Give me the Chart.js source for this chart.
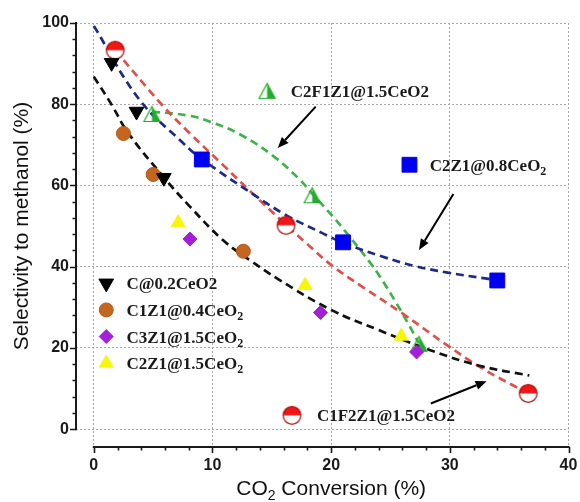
<!DOCTYPE html>
<html>
<head>
<meta charset="utf-8">
<script src="https://cdn.jsdelivr.net/npm/chart.js@4.4.1/dist/chart.umd.min.js"></script>
<style>
  html, body { margin: 0; padding: 0; background: #fff; }
</style>
</head>
<body>
<canvas id="chart" width="580" height="502"></canvas>
<script>
(function () {
    'use strict';

    // axis ticks
    var X_TICKS = [0, 10, 20, 30, 40];
    var Y_TICKS = [0, 20, 40, 60, 80, 100];

    // series names ("_2" = subscript 2)
    var NAMES = ['C@0.2CeO2', 'C1Z1@0.4CeO_2', 'C3Z1@1.5CeO_2', 'C2Z1@1.5CeO_2',
                 'C2F1Z1@1.5CeO2', 'C2Z1@0.8CeO_2', 'C1F2Z1@1.5CeO2'];

    // measured points: CO2 conversion (%) / selectivity (%)
    var C02_X     = [1.5, 3.6, 5.9];
    var C02_Y     = [90.2, 78.2, 61.9];
    var C1Z1_X    = [2.5, 5.0, 12.6];
    var C1Z1_Y    = [72.8, 62.7, 43.8];
    var C3Z1_X    = [8.1, 19.1, 27.2];
    var C3Z1_Y    = [46.8, 28.7, 19.0];
    var C2Z1_15_X = [7.1, 17.8, 25.9];
    var C2Z1_15_Y = [50.8, 35.4, 22.9];
    var C2F1Z1_X  = [4.9, 18.4, 27.4];
    var C2F1Z1_Y  = [77.6, 57.6, 21.0];
    var C2Z1_08_X = [9.1, 21.0, 34.0];
    var C2Z1_08_Y = [66.4, 46.0, 36.6];
    var C1F2Z1_X  = [1.8, 16.2, 36.6];
    var C1F2Z1_Y  = [93.3, 50.2, 8.8];

    // dashed guide curves
    var FIT_BLACK_X = [0, 1.5, 2.9, 5.9, 8.1, 10.9, 13.2, 15.5, 19.9, 24.0, 28.3, 32.5, 36.7];
    var FIT_BLACK_Y = [86.8, 79.9, 72.9, 62.0, 54.8, 46.5, 41.5, 37.0, 29.5, 24.4, 19.5, 15.6, 13.2];
    var FIT_BLUE_X  = [0, 3.8, 7.5, 9.1, 13.7, 16.2, 19.3, 21.0, 24.3, 27.0, 29.7, 33.0, 34.0];
    var FIT_BLUE_Y  = [99.3, 81.3, 70.5, 66.5, 57.3, 52.7, 48.2, 45.9, 42.5, 40.2, 38.6, 37.1, 36.7];
    var FIT_RED_X   = [1.8, 5.7, 8.1, 10.9, 13.1, 16.2, 17.9, 20.1, 22.6, 26.0, 29.7, 32.7, 36.6];
    var FIT_RED_Y   = [93.3, 80.0, 72.8, 65.0, 58.8, 50.3, 45.8, 40.2, 35.1, 28.5, 20.8, 15.0, 8.8];
    var FIT_GREEN_X = [4.9, 8.0, 9.8, 12.3, 15.1, 17.3, 18.4, 20.1, 21.5, 23.2, 24.1, 25.5, 26.6, 27.4];
    var FIT_GREEN_Y = [78.2, 77.2, 75.7, 72.6, 67.3, 61.6, 58.0, 52.5, 47.6, 41.3, 37.6, 31.0, 25.4, 21.1];

    var SANS  = '"Liberation Sans", Arial, sans-serif';
    var SERIF = '"Liberation Serif", "Times New Roman", serif';

    function pts(xs, ys) {
        return xs.map(function (x, i) { return { x: x, y: ys[i] }; });
    }

    // half filled markers
    function halfCircle(r, fill, edge) {
        var s = Math.ceil(r * 2 + 3), m = s / 2;
        var c = document.createElement('canvas');
        c.width = c.height = s;
        var g = c.getContext('2d');
        g.beginPath(); g.arc(m, m, r, 0, Math.PI * 2); g.fillStyle = '#fff'; g.fill();
        g.beginPath(); g.arc(m, m, r, Math.PI, Math.PI * 2); g.closePath();
        g.fillStyle = fill; g.fill();
        g.beginPath(); g.arc(m, m, r, 0, Math.PI * 2);
        g.lineWidth = 1.3; g.strokeStyle = edge; g.stroke();
        return c;
    }

    function halfTriangle(w, h, fill) {
        var c = document.createElement('canvas');
        c.width = w + 3; c.height = h + 3;
        var g = c.getContext('2d');
        var m = (w + 3) / 2, top = 1.5, bot = h + 1.5;
        g.beginPath(); g.moveTo(m, top); g.lineTo(w + 1.5, bot); g.lineTo(m, bot); g.closePath();
        g.fillStyle = fill; g.fill();
        g.beginPath(); g.moveTo(m, top); g.lineTo(w + 1.5, bot); g.lineTo(1.5, bot); g.closePath();
        g.lineWidth = 1.2; g.strokeStyle = fill; g.stroke();
        return c;
    }

    var GREEN_TRI = halfTriangle(16, 15, '#22ad2c');
    var RED_HALF  = halfCircle(8.8, '#f21515', '#b01010');

    function marker(name, xs, ys, style) {
        return {
            label: name,
            data: pts(xs, ys),
            showLine: false,
            order: 1,
            pointStyle: style.shape,
            pointRadius: style.r || 6,
            pointRotation: style.rot || 0,
            pointBackgroundColor: style.color,
            pointBorderColor: style.edge || style.color,
            pointBorderWidth: 1
        };
    }

    function curve(xs, ys, color) {
        return {
            label: '',
            data: pts(xs, ys),
            showLine: true,
            order: 2,
            borderColor: color,
            borderWidth: 2.7,
            borderDash: [8, 5],
            pointRadius: 0,
            fill: false,
            tension: 0.4
        };
    }

    var markers = [
        marker(NAMES[0], C02_X, C02_Y, { shape: 'triangle', r: 8.5, rot: 180, color: '#000' }),
        marker(NAMES[1], C1Z1_X, C1Z1_Y, { shape: 'circle', r: 7, color: '#c4661f', edge: '#b35a16' }),
        marker(NAMES[2], C3Z1_X, C3Z1_Y, { shape: 'rectRot', r: 7, color: '#a51fd9' }),
        marker(NAMES[3], C2Z1_15_X, C2Z1_15_Y, { shape: 'triangle', r: 8, color: '#f6f60a' }),
        marker(NAMES[4], C2F1Z1_X, C2F1Z1_Y, { shape: GREEN_TRI }),
        marker(NAMES[5], C2Z1_08_X, C2Z1_08_Y, { shape: 'rect', r: 10.5, color: '#0000f0' }),
        marker(NAMES[6], C1F2Z1_X, C1F2Z1_Y, { shape: RED_HALF })
    ];

    var curves = [
        curve(FIT_BLACK_X, FIT_BLACK_Y, '#111111'),
        curve(FIT_BLUE_X, FIT_BLUE_Y, '#1d2a86'),
        curve(FIT_RED_X, FIT_RED_Y, '#e0504a'),
        curve(FIT_GREEN_X, FIT_GREEN_Y, '#3db447')
    ];

    // legend rows (series index) and in-plot labels, in data units
    var LEGEND = { items: [0, 1, 2, 3], x: 1.05, textX: 2.75, y: 35.9, dy: 6.55 };
    var NOTES = [
        { ds: 4, x: 14.6, y: 83.3, textX: 16.6 },
        { ds: 5, x: 26.6, y: 65.1, textX: 28.3 },
        { ds: 6, x: 16.7, y: 3.4,  textX: 18.8 }
    ];
    var ARROWS = [
        { from: [18.7, 79.4], to: [15.5, 69.2] },
        { from: [30.3, 57.9], to: [27.4, 44.1] },
        { from: [28.4, 6.3],  to: [33.1, 11.8] }
    ];

    function richText(ctx, str, x, y, size) {
        var parts = str.split('_');
        var main = 'bold ' + size + 'px ' + SERIF;
        var sub = 'bold ' + Math.round(size * 0.68) + 'px ' + SERIF;
        var segs = [{ t: parts[0], f: main, dy: 0 }];
        for (var i = 1; i < parts.length; i++) {
            segs.push({ t: parts[i].charAt(0), f: sub, dy: size * 0.25 });
            if (parts[i].length > 1) segs.push({ t: parts[i].slice(1), f: main, dy: 0 });
        }
        var cx = x;
        ctx.textAlign = 'left';
        segs.forEach(function (s) {
            ctx.font = s.f;
            ctx.fillText(s.t, cx, y + s.dy);
            cx += ctx.measureText(s.t).width;
        });
    }

    function drawMarker(ctx, ds, x, y) {
        ctx.save();
        ctx.fillStyle = ds.pointBackgroundColor;
        ctx.strokeStyle = ds.pointBorderColor;
        ctx.lineWidth = 1;
        Chart.helpers.drawPoint(ctx, {
            pointStyle: ds.pointStyle,
            radius: ds.pointRadius,
            rotation: ds.pointRotation,
            borderWidth: 1
        }, x, y);
        ctx.restore();
    }

    function arrow(ctx, x1, y1, x2, y2) {
        var ang = Math.atan2(y2 - y1, x2 - x1), len = 11, half = 4.5;
        var bx = x2 - Math.cos(ang) * len, by = y2 - Math.sin(ang) * len;
        ctx.beginPath(); ctx.moveTo(x1, y1); ctx.lineTo(bx, by); ctx.stroke();
        ctx.beginPath();
        ctx.moveTo(x2, y2);
        ctx.lineTo(bx - Math.sin(ang) * half, by + Math.cos(ang) * half);
        ctx.lineTo(bx + Math.sin(ang) * half, by - Math.cos(ang) * half);
        ctx.closePath(); ctx.fill();
    }

    var decor = {
        id: 'decor',
        afterDraw: function (chart) {
            var ctx = chart.ctx, xs = chart.scales.x, ys = chart.scales.y, a = chart.chartArea;
            var xFirst = X_TICKS[0], xLast = X_TICKS[X_TICKS.length - 1];
            var yFirst = Y_TICKS[0], yLast = Y_TICKS[Y_TICKS.length - 1];
            ctx.save();

            // offset axes with major / minor ticks
            ctx.strokeStyle = '#1a1a1a';
            ctx.lineWidth = 2;
            ctx.beginPath();
            ctx.moveTo(xs.getPixelForValue(xFirst) - 1, a.bottom);
            ctx.lineTo(xs.getPixelForValue(xLast) + 1, a.bottom);
            ctx.moveTo(a.left, ys.getPixelForValue(yFirst) + 1);
            ctx.lineTo(a.left, ys.getPixelForValue(yLast) - 1);
            ctx.stroke();
            ctx.lineWidth = 1.6;
            ctx.beginPath();
            var v, p;
            for (v = xFirst; v <= xLast; v += 2) {
                p = Math.round(xs.getPixelForValue(v)) + 0.5;
                ctx.moveTo(p, a.bottom);
                ctx.lineTo(p, a.bottom + (v % 10 === 0 ? 6 : 3.5));
            }
            for (v = yFirst; v <= yLast; v += 4) {
                p = Math.round(ys.getPixelForValue(v)) + 0.5;
                ctx.moveTo(a.left, p);
                ctx.lineTo(a.left - (v % 20 === 0 ? 6 : 3.5), p);
            }
            ctx.stroke();

            // axis titles
            ctx.fillStyle = '#111';
            ctx.textBaseline = 'alphabetic';
            var cxMid = (xs.getPixelForValue(xFirst) + xs.getPixelForValue(xLast)) / 2;
            var segs = [['CO', 21, 0], ['2', 14, 5], [' Conversion (%)', 21, 0]];
            var tw = 0;
            segs.forEach(function (s) { ctx.font = s[1] + 'px ' + SANS; s.push(ctx.measureText(s[0]).width); tw += s[3]; });
            var tx = cxMid - tw / 2;
            ctx.textAlign = 'left';
            segs.forEach(function (s) { ctx.font = s[1] + 'px ' + SANS; ctx.fillText(s[0], tx, 495 + s[2]); tx += s[3]; });

            var cyMid = (ys.getPixelForValue(yFirst) + ys.getPixelForValue(yLast)) / 2;
            ctx.save();
            ctx.translate(28, cyMid);
            ctx.rotate(-Math.PI / 2);
            ctx.textAlign = 'center';
            ctx.font = '21px ' + SANS;
            ctx.fillText('Selectivity to methanol (%)', 0, 0);
            ctx.restore();

            // legend
            var dsets = chart.data.datasets;
            LEGEND.items.forEach(function (idx, i) {
                var py = ys.getPixelForValue(LEGEND.y - i * LEGEND.dy);
                drawMarker(ctx, dsets[idx], xs.getPixelForValue(LEGEND.x), py);
                ctx.fillStyle = '#1a1a1a';
                richText(ctx, NAMES[idx], xs.getPixelForValue(LEGEND.textX), py + 6, 17);
            });

            // labels next to the curves
            NOTES.forEach(function (n) {
                var py = ys.getPixelForValue(n.y);
                drawMarker(ctx, dsets[n.ds], xs.getPixelForValue(n.x), py);
                ctx.fillStyle = '#1a1a1a';
                richText(ctx, NAMES[n.ds], xs.getPixelForValue(n.textX), py + 6, 17);
            });

            // arrows
            ctx.strokeStyle = '#000';
            ctx.fillStyle = '#000';
            ctx.lineWidth = 2;
            ARROWS.forEach(function (r) {
                arrow(ctx,
                    xs.getPixelForValue(r.from[0]), ys.getPixelForValue(r.from[1]),
                    xs.getPixelForValue(r.to[0]), ys.getPixelForValue(r.to[1]));
            });
            ctx.restore();
        }
    };

    new Chart(document.getElementById('chart'), {
        type: 'scatter',
        data: { datasets: markers.concat(curves) },
        options: {
            responsive: false,
            animation: false,
            events: [],
            devicePixelRatio: 1,
            layout: { padding: { top: 23, right: 8, left: 0, bottom: 0 } },
            plugins: {
                legend: { display: false },
                tooltip: { enabled: false }
            },
            scales: {
                x: {
                    type: 'linear',
                    min: -1.5,
                    max: 40,
                    afterBuildTicks: function (s) { s.ticks = X_TICKS.map(function (v) { return { value: v }; }); },
                    afterFit: function (s) { s.height = 55; s.paddingRight = 0; s.paddingLeft = 0; },
                    grid: { color: '#a8a8a8', lineWidth: 1, drawTicks: false },
                    border: { display: false, dash: [2, 2] },
                    ticks: {
                        padding: 9,
                        color: '#1a1a1a',
                        font: { family: SANS, size: 16, weight: 'bold' },
                        maxRotation: 0,
                        callback: function (v) { return String(v); }
                    }
                },
                y: {
                    type: 'linear',
                    min: -4.4,
                    max: 100,
                    afterBuildTicks: function (s) { s.ticks = Y_TICKS.map(function (v) { return { value: v }; }); },
                    afterFit: function (s) { s.width = 76; s.paddingTop = 0; s.paddingBottom = 0; },
                    grid: { color: '#a8a8a8', lineWidth: 1, drawTicks: false },
                    border: { display: false, dash: [2, 2] },
                    ticks: {
                        padding: 7,
                        color: '#1a1a1a',
                        font: { family: SANS, size: 16, weight: 'bold' },
                        callback: function (v) { return String(v); }
                    }
                }
            }
        },
        plugins: [decor]
    });
}());
</script>
</body>
</html>
